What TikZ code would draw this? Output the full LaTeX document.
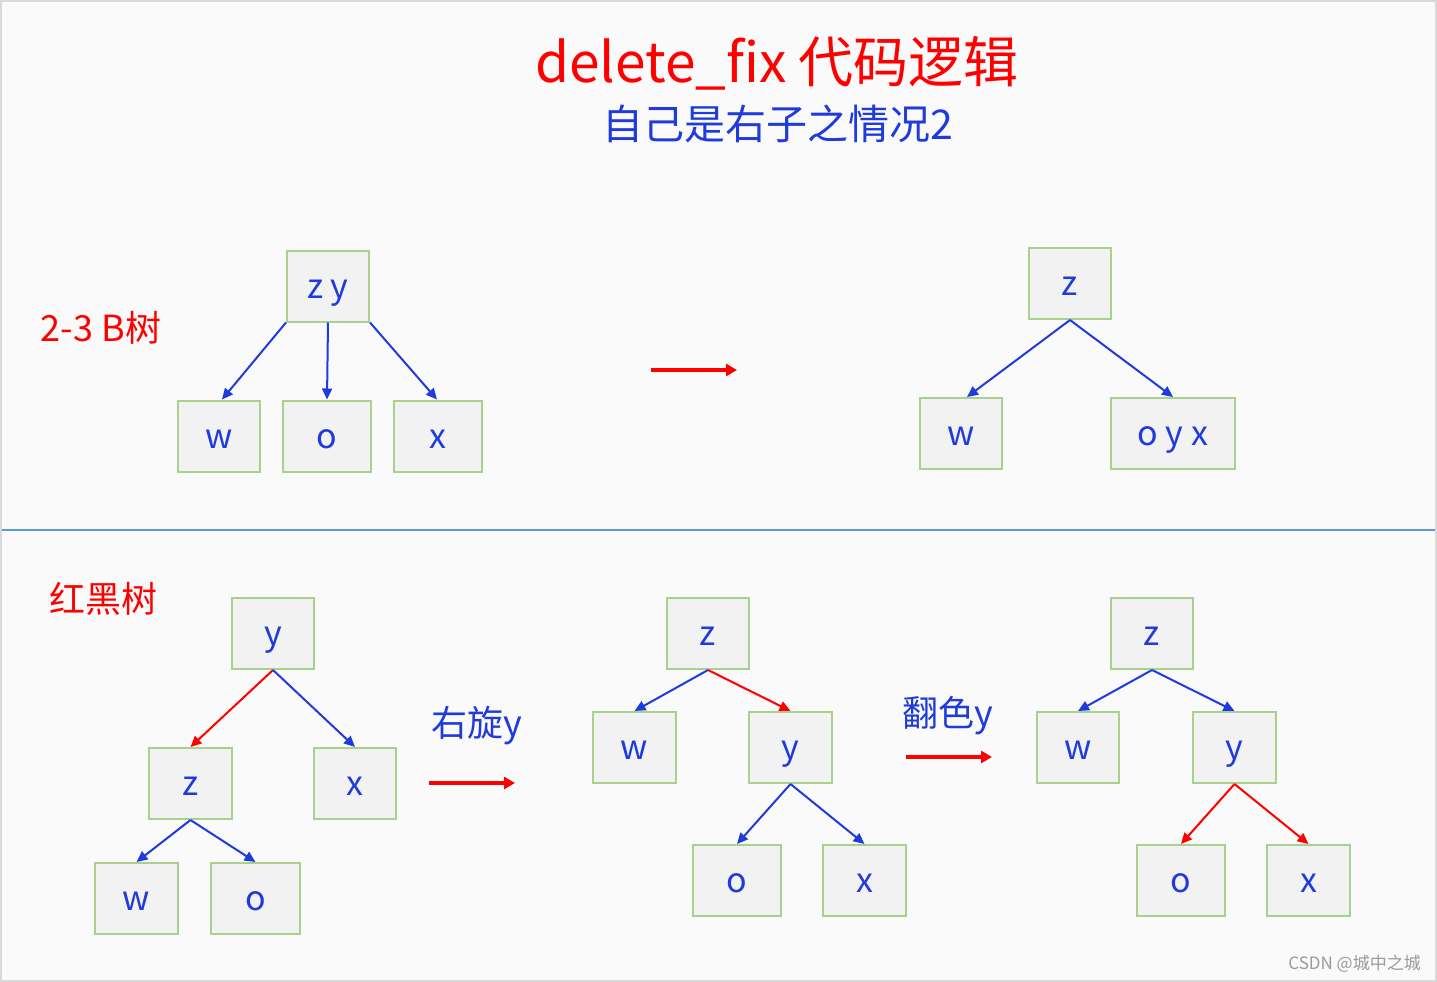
\documentclass[tikz,border=0pt]{standalone}
\usepackage{fontspec}
\setmainfont{Noto Sans CJK SC}
\usetikzlibrary{arrows.meta}
\definecolor{bg}{HTML}{FAFAFA}
\definecolor{frame}{HTML}{D9D9D9}
\definecolor{boxfill}{HTML}{F2F2F2}
\definecolor{boxline}{HTML}{A9D18E}
\definecolor{tblue}{HTML}{1F3BDB}
\definecolor{tred}{HTML}{FF0000}
\definecolor{sep}{HTML}{5B9BD5}
\definecolor{wm}{HTML}{9A9A9A}
\tikzset{
  tbox/.style={draw=boxline, fill=boxfill, line width=2pt, inner sep=0pt,
    minimum width=#1, minimum height=71pt, text height=24pt, text depth=0pt,
    text=tblue, font=\fontsize{34}{34}\selectfont},
  tbox/.default=82pt,
  bedge/.style={draw=tblue, line width=2pt, -{Triangle[length=11pt,width=10pt]}},
  redge/.style={draw=tred, line width=2pt, -{Triangle[length=11pt,width=10pt]}},
  bigarrow/.style={draw=tred, line width=4pt, -{Triangle[length=11pt,width=12pt]}},
  lbl/.style={inner sep=0pt, font=\fontsize{36}{36}\selectfont},
}
\begin{document}
\begin{tikzpicture}[x=1pt,y=-1pt]
\useasboundingbox (0,0) rectangle (1437,982);
\fill[bg] (0,0) rectangle (1437,982);
\draw[frame, line width=2pt] (1,1) rectangle (1436,981);
\draw[sep, line width=2pt] (2,530) -- (1435,530);

% titles
\node[inner sep=0pt, text=tred, font=\fontsize{55}{55}\selectfont] (title) at (777,63) {delete\_fix 代码逻辑};
\node[inner sep=0pt, text=tblue, font=\fontsize{41}{41}\selectfont] (sub) at (778,124) {自己是右子之情况2};
\node[lbl, text=tred] (l23) at (101,328) {2-3 B树};
\node[lbl, text=tred] (lrb) at (103,599) {红黑树};

% top left
\node[tbox] (zy) at (328,286) {z y};
\node[tbox] (tw) at (219,436) {w};
\node[tbox=88pt] (to) at (327,436) {o};
\node[tbox=88pt] (tx) at (438,436) {x};
\draw[bedge] (zy.south west) -- ([xshift=3pt]tw.north);
\draw[bedge] (zy.south) -- (to.north);
\draw[bedge] (zy.south east) -- ([xshift=-1pt]tx.north);

% top arrow
\coordinate (ta1) at (651,370);
\coordinate (ta2) at (737,370);
\draw[bigarrow] (ta1) -- (ta2);

% top right
\node[tbox] (rz) at (1070,283.5) {z};
\node[tbox] (rw) at (961,433.5) {w};
\node[tbox=124pt] (roy) at (1173,433.5) {o y x};
\draw[bedge] (rz.south) -- ([xshift=6pt]rw.north);
\draw[bedge] (rz.south) -- (roy.north);

% bottom left tree
\node[tbox] (ay) at (273,633.5) {y};
\node[tbox=83pt] (az) at (190.5,783.5) {z};
\node[tbox] (ax) at (355,783.5) {x};
\node[tbox=83pt] (aw) at (136.5,898.5) {w};
\node[tbox=89pt] (ao) at (255.5,898.5) {o};
\draw[redge] (ay.south) -- (az.north);
\draw[bedge] (ay.south) -- (ax.north);
\draw[bedge] (az.south) -- (aw.north);
\draw[bedge] (az.south) -- (ao.north);

% rotate arrow
\node[lbl, text=tblue] (rot) at (477,726) {右旋y};
\coordinate (ra1) at (429,783);
\coordinate (ra2) at (515,783);
\draw[bigarrow] (ra1) -- (ra2);

% middle tree
\node[tbox] (bz) at (708,633.5) {z};
\node[tbox=83pt] (bw) at (634.5,747.5) {w};
\node[tbox=83pt] (by) at (790.5,747.5) {y};
\node[tbox=88pt] (bo) at (737,880.5) {o};
\node[tbox=83pt] (bx) at (864.5,880.5) {x};
\draw[bedge] (bz.south) -- (bw.north);
\draw[redge] (bz.south) -- (by.north);
\draw[bedge] (by.south) -- (bo.north);
\draw[bedge] (by.south) -- (bx.north);

% recolor arrow
\node[lbl, text=tblue] (rec) at (948,716) {翻色y};
\coordinate (ca1) at (906,757);
\coordinate (ca2) at (992,757);
\draw[bigarrow] (ca1) -- (ca2);

% right tree
\node[tbox] (cz) at (1152,633.5) {z};
\node[tbox] (cw) at (1078,747.5) {w};
\node[tbox=83pt] (cy) at (1234.5,747.5) {y};
\node[tbox=88pt] (co) at (1181,880.5) {o};
\node[tbox=83pt] (cx) at (1308.5,880.5) {x};
\draw[bedge] (cz.south) -- (cw.north);
\draw[bedge] (cz.south) -- (cy.north);
\draw[redge] (cy.south) -- (co.north);
\draw[redge] (cy.south) -- (cx.north);

% watermark
\node[inner sep=0pt, anchor=east, text=wm, font=\fontsize{17}{17}\selectfont] (wmk) at (1421,964) {CSDN @城中之城};
\end{tikzpicture}
\end{document}
